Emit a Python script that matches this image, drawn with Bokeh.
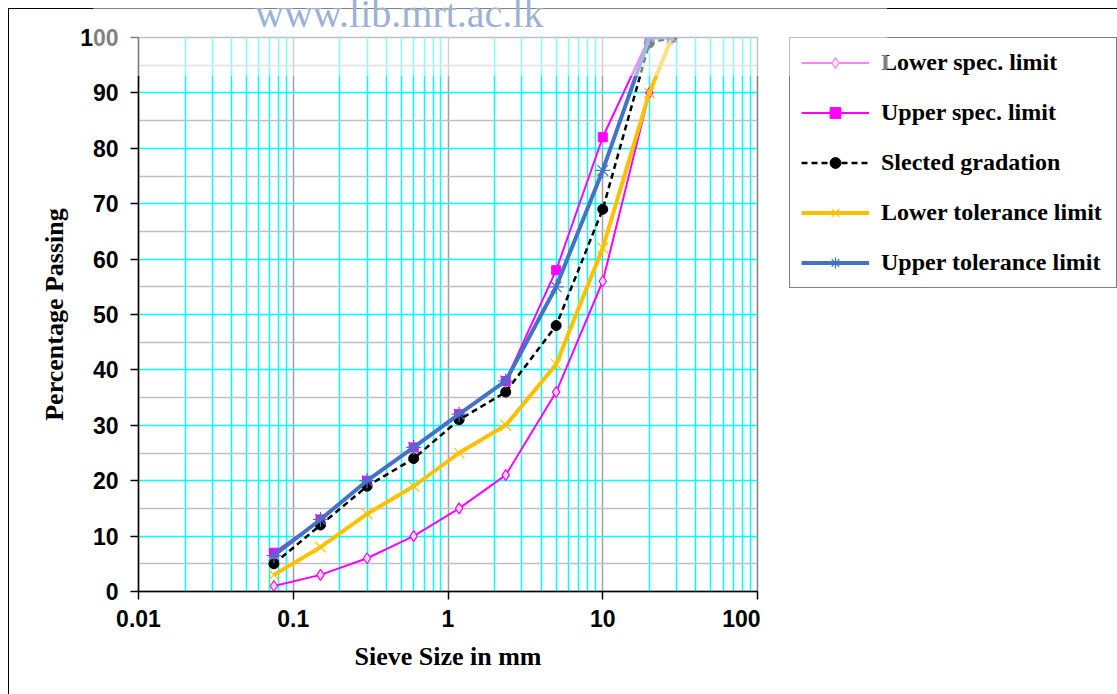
from bokeh.plotting import figure
from bokeh.layouts import row
from bokeh.models import FixedTicker, Legend, LegendItem, InlineStyleSheet
from bokeh.embed import file_html
from bokeh.resources import INLINE

# Sieve sizes (mm) and percentage passing for each gradation envelope
sieve_mm = [0.075, 0.15, 0.3, 0.6, 1.18, 2.36, 5, 10, 20, 28]
lower_spec = [1, 3, 6, 10, 15, 21, 36, 56, 90, 100]
upper_spec = [7, 13, 20, 26, 32, 38, 58, 82, 100, 100]
selected = [5, 12, 19, 24, 31, 36, 48, 69, 99, 100]
lower_tol = [3, 8, 14, 19, 25, 30, 41, 62, 90, 100]
upper_tol = [6.5, 13, 20, 26, 32, 38, 55, 76, 100, 100]

series_names = ["Lower spec. limit", "Upper spec. limit", "Slected gradation",
                "Lower tolerance limit", "Upper tolerance limit"]

x_ticks = [0.01, 0.1, 1, 10, 100]
x_tick_labels = ["0.01", "0.1", "1", "10", "100"]
y_ticks = [0, 10, 20, 30, 40, 50, 60, 70, 80, 90, 100]

x_minor = [m * d for d in (0.01, 0.1, 1, 10) for m in range(2, 10)]
y_minor = [5 + 10 * k for k in range(10)]


def draw_series(fig):
    """Draw the five gradation curves (line + marker) and return their renderers."""
    out = []
    r = fig.line(sieve_mm, lower_spec, line_color="#ff00ff", line_width=2)
    m = fig.scatter(sieve_mm, lower_spec, marker="diamond", size=11,
                    line_color="#ff00ff", fill_color="#e2dce2", line_width=1.2)
    out.append([r, m])
    r = fig.line(sieve_mm, upper_spec, line_color="#ff00ff", line_width=2)
    m = fig.scatter(sieve_mm, upper_spec, marker="square", size=9,
                    line_color="#ff00ff", fill_color="#ff00ff")
    out.append([r, m])
    r = fig.line(sieve_mm, selected, line_color="black", line_width=2.5, line_dash="6 4")
    m = fig.scatter(sieve_mm, selected, marker="circle", size=10,
                    line_color="black", fill_color="black")
    out.append([r, m])
    r = fig.line(sieve_mm, lower_tol, line_color="#ffc000", line_width=4)
    m = fig.scatter(sieve_mm, lower_tol, marker="x", size=15,
                    line_color="#ffc000", line_width=1.2)
    out.append([r, m])
    r = fig.line(sieve_mm, upper_tol, line_color="#4472c4", line_width=4)
    m = fig.scatter(sieve_mm, upper_tol, marker="asterisk", size=15,
                    line_color="#4472c4", line_width=1.2)
    out.append([r, m])
    return out


# ---- main chart -------------------------------------------------------------
p = figure(width=760, height=694, x_axis_type="log",
           x_range=(0.01, 100), y_range=(0, 100),
           output_backend="svg", toolbar_location=None,
           min_border_left=138, min_border_right=3,
           min_border_top=37, min_border_bottom=103,
           background_fill_color="white", border_fill_color="white")

p.outline_line_color = "#808080"
p.outline_line_width = 1.5

p.xaxis.ticker = FixedTicker(ticks=x_ticks, minor_ticks=[])
p.xaxis.major_label_overrides = {t: s for t, s in zip(x_ticks, x_tick_labels)}
p.yaxis.ticker = FixedTicker(ticks=y_ticks, minor_ticks=[])
p.xaxis.axis_label = "Sieve Size in mm"
p.yaxis.axis_label = "Percentage Passing"
for ax in (p.xaxis[0], p.yaxis[0]):
    ax.major_label_text_font = "Liberation Sans"
    ax.major_label_text_font_style = "bold"
    ax.major_label_text_font_size = "23px"
    ax.major_label_text_color = "black"
    ax.axis_label_text_font = "Liberation Serif"
    ax.axis_label_text_font_style = "bold"
    ax.axis_label_text_font_size = "26px"
    ax.axis_label_text_color = "black"
    ax.axis_line_color = "black"
    ax.axis_line_width = 1.5
    ax.major_tick_line_color = "black"
    ax.major_tick_line_width = 1.5
    ax.major_tick_out = 8
    ax.major_tick_in = 0
    ax.minor_tick_line_color = None
p.xaxis.major_label_standoff = 10
p.xaxis.axis_label_standoff = 12
p.yaxis.major_label_standoff = 12
p.yaxis.axis_label_standoff = 8

# grids: decades grey / sub-decades cyan; tens cyan / fives grey
p.xgrid.ticker = FixedTicker(ticks=[0.1, 1, 10], minor_ticks=x_minor)
p.xgrid.grid_line_color = "#a0a0a0"
p.xgrid.grid_line_width = 1.5
p.xgrid.minor_grid_line_color = "#00ffff"
p.xgrid.minor_grid_line_width = 1.5
p.ygrid.ticker = FixedTicker(ticks=y_ticks[1:-1], minor_ticks=y_minor)
p.ygrid.grid_line_color = "#00ffff"
p.ygrid.grid_line_width = 1.5
p.ygrid.minor_grid_line_color = "#c0c0c0"
p.ygrid.minor_grid_line_width = 1.5

draw_series(p)

# ---- legend panel to the right of the chart -----------------------------------
q = figure(width=357, height=694, x_range=(1000, 1001), y_range=(1000, 1001),
           output_backend="svg", toolbar_location=None,
           x_axis_location=None, y_axis_location=None,
           min_border_left=0, min_border_right=0,
           min_border_top=0, min_border_bottom=0,
           background_fill_color="white", border_fill_color="white")
q.grid.visible = False
q.outline_line_color = None

legend_renderers = draw_series(q)
items = [LegendItem(label=name, renderers=rs)
         for name, rs in zip(series_names, legend_renderers)]
legend = Legend(items=items, location=(29, 303),
                label_text_font="Liberation Serif", label_text_font_style="bold",
                label_text_font_size="24px", label_text_color="black",
                glyph_width=68, glyph_height=27, label_height=27, label_width=224,
                label_standoff=12, spacing=23, padding=11, margin=0,
                border_line_color="black", border_line_width=1.5,
                background_fill_color="white", background_fill_alpha=1)
q.add_layout(legend)

layout = row(p, q, spacing=0)

# outer chart border, and the pale banner with the library address along the top
page_css = """
:host::before {
  content: "";
  position: absolute; left: 8px; top: 8px; width: 1109px; height: 686px;
  box-sizing: border-box;
  border-left: 1.5px solid black; border-top: 1.5px solid black;
  pointer-events: none; z-index: 5;
}
:host::after {
  content: "www.lib.mrt.ac.lk";
  position: absolute; left: 93px; top: 0; width: 794px; height: 76px;
  box-sizing: border-box; padding-left: 162px; overflow: hidden;
  background: rgba(255, 255, 255, 0.5);
  font-family: 'Liberation Serif'; font-size: 40px; line-height: 27px;
  color: #9ab3d5; white-space: nowrap;
  pointer-events: none; z-index: 6;
}
"""
layout.stylesheets = [InlineStyleSheet(css=page_css)]

open("out.html", "w").write(file_html(layout, INLINE))
